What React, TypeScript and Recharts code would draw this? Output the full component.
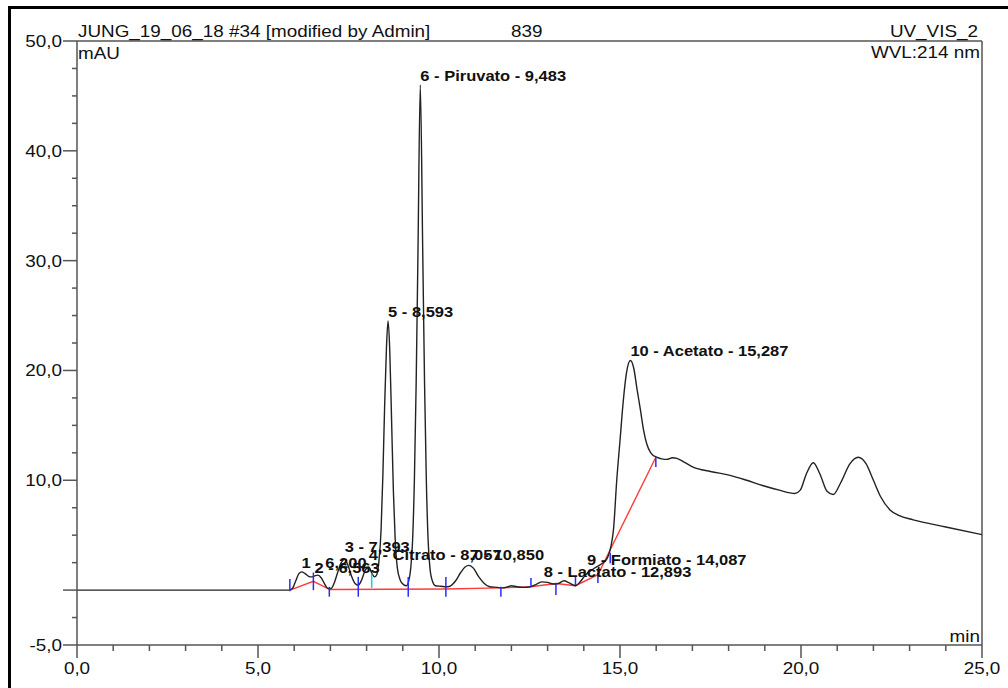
import { ComposedChart, Line, Scatter, XAxis, YAxis, ReferenceLine } from 'recharts'

// chromatogram trace: [retention time (min), signal (mAU)]
const trace: [number, number][] = [
    [0, 0], [5.85, 0], [5.95, 0.15], [6.05, 0.9], [6.13, 1.5], [6.21, 1.66], [6.3, 1.5], [6.4, 1.25],
    [6.48, 1.2], [6.57, 1.3], [6.66, 1.36], [6.75, 1.1], [6.85, 0.5], [6.93, 0.15], [7.02, 0.15],
    [7.1, 0.6], [7.2, 1.6], [7.3, 2.5], [7.39, 2.8], [7.48, 2.3], [7.58, 1.3], [7.68, 0.6], [7.77, 0.45],
    [7.86, 0.9], [7.96, 1.8], [8.06, 2.1], [8.15, 1.5], [8.22, 1.2], [8.28, 1.4], [8.34, 2.6], [8.4, 5.5],
    [8.45, 10.5], [8.5, 17], [8.55, 22.2], [8.593, 24.5], [8.64, 21.8], [8.69, 15.5], [8.74, 9], [8.79, 4.6],
    [8.85, 2], [8.93, 0.9], [9.02, 0.5], [9.1, 0.4], [9.16, 0.8], [9.22, 2.0], [9.27, 4.5], [9.32, 10],
    [9.37, 19], [9.42, 31], [9.483, 46], [9.55, 31], [9.6, 19], [9.65, 10], [9.7, 4.5], [9.75, 2.0],
    [9.82, 0.8], [9.9, 0.4], [10.05, 0.35], [10.2, 0.3], [10.3, 0.35], [10.45, 0.8], [10.6, 1.6],
    [10.72, 2.1], [10.83, 2.25], [10.95, 2.0], [11.1, 1.2], [11.25, 0.6], [11.4, 0.3], [11.6, 0.25],
    [11.75, 0.2], [11.9, 0.3], [12.0, 0.4], [12.15, 0.3], [12.35, 0.25], [12.52, 0.3], [12.7, 0.55],
    [12.85, 0.75], [13.0, 0.7], [13.15, 0.55], [13.3, 0.6], [13.45, 0.85], [13.6, 0.65], [13.77, 0.4],
    [13.9, 0.75], [14.05, 1.4], [14.25, 1.9], [14.45, 2.3], [14.63, 2.8], [14.75, 4.0], [14.82, 5.5],
    [14.91, 10], [15.0, 13.6], [15.09, 17.2], [15.18, 19.8], [15.287, 20.9], [15.38, 20.2], [15.47, 18.3],
    [15.56, 16.5], [15.65, 14.6], [15.74, 13.3], [15.85, 12.5], [16.01, 12.1], [16.15, 11.95],
    [16.29, 11.9], [16.45, 12.05], [16.57, 12.0], [16.8, 11.6], [17.02, 11.2], [17.5, 10.8],
    [18.04, 10.45], [18.5, 10.0], [18.96, 9.5], [19.4, 9.1], [19.83, 8.8], [19.98, 9.1], [20.15, 10.6],
    [20.34, 11.6], [20.52, 10.6], [20.72, 9.0], [20.89, 8.7], [21.1, 9.8], [21.35, 11.5], [21.58, 12.1],
    [21.8, 11.5], [22.0, 10.0], [22.2, 8.5], [22.46, 7.3], [22.7, 6.8], [23.1, 6.4], [24.0, 5.75],
    [25, 5.05],
]

// integration baseline (red)
const baseline: [number, number][] = [
    [5.88, 0], [6.53, 0.8], [6.99, 0.05], [10.19, 0.1], [11.71, 0.2], [12.54, 0.3],
    [13.23, 0.6], [13.77, 0.4], [14.39, 1.4], [15.99, 12.1],
]

// peak delimiters: [time, low, high]
const delimiters: [number, number, number][] = [
    [5.88, -0.1, 1.0], [6.53, 0, 1.6], [6.97, -0.6, 0.3], [7.77, -0.6, 1.2], [9.15, -0.6, 1.2],
    [10.19, -0.6, 1.2], [11.71, -0.6, 0.3], [12.54, 0.3, 1.1], [13.23, -0.45, 0.6], [13.77, 0.45, 1.3],
    [14.39, 0.65, 1.55], [14.73, 2.45, 3.4], [15.99, 11.2, 12.1],
]
const splitMarks: [number, number, number][] = [[8.14, 0.2, 1.5]]

// peak table
const peakTimes = [6.2, 6.563, 7.393, 8.057, 8.593, 9.483, 10.85, 12.893, 14.087, 15.287]
const peakNames = ['', '', '', 'Citrato', '', 'Piruvato', '', 'Lactato', 'Formiato', 'Acetato']
const labelLevels = [2.0, 1.57, 3.48, 2.73, 24.85, 46.4, 2.73, 1.2, 2.27, 21.36]

const xTicks = Array.from({ length: 26 }, (_, i) => i)
const yTicks = [50, 47.5, 45, 42.5, 40, 37.5, 35, 32.5, 30, 27.5, 25, 22.5, 20, 17.5, 15, 12.5, 10, 7.5, 5, 2.5, 0, -2.5, -5]

const traceData = trace.map(([t, v]) => ({ t, v }))
const baselineData = baseline.map(([t, v]) => ({ t, v }))
const labelData = peakTimes.map((t, i) => ({
    t,
    v: labelLevels[i],
    text: `${i + 1} - ${peakNames[i] ? peakNames[i] + ' - ' : ''}${t.toFixed(3).replace('.', ',')}`,
}))

const FONT = "'Liberation Sans', Arial, sans-serif"
const SX = 1.18
const AXIS = '#555'

const fmt = (v: number) => v.toFixed(1).replace('.', ',')

const SText = ({ x, y, anchor = 'start', size = 16, bold = false, children }: any) => (
    <text
        transform={`translate(${x},${y}) scale(${SX},1)`}
        textAnchor={anchor}
        fontSize={size}
        fontWeight={bold ? 'bold' : 'normal'}
        fontFamily={FONT}
        fill="#111"
    >
        {children}
    </text>
)

const YTick = ({ x, y, payload }: any) => {
    const v = payload.value
    const major = v % 10 === 0 || v === -5
    return (
        <g>
            <line x1={x - (major ? 14 : 5)} x2={x} y1={y} y2={y} stroke={AXIS} strokeWidth={1.5} />
            {major && v !== 0 && <SText x={x - 15} y={y + 6} anchor="end">{fmt(v)}</SText>}
        </g>
    )
}

const XTick = ({ x, y, payload }: any) => {
    const v = payload.value
    const major = v % 5 === 0
    return (
        <g>
            <line x1={x} x2={x} y1={y} y2={y + (major ? 13 : 6)} stroke={AXIS} strokeWidth={1.5} />
            {major && <SText x={x} y={y + 29} anchor="middle">{fmt(v)}</SText>}
        </g>
    )
}

const PeakLabel = ({ cx, cy, payload }: any) => (
    <SText x={cx} y={cy} size={14} bold>{payload.text}</SText>
)

export default function App() {
    return (
        <div style={{ position: 'relative', width: 1008, height: 688, overflow: 'hidden', background: '#fff' }}>
            <style>{'body{margin:0}'}</style>
            <div
                style={{
                    position: 'absolute', left: 8, top: 6, width: 1040, height: 720,
                    border: '3px solid #000',
                }}
            />
            <div style={{ position: 'absolute', left: 0, top: 0 }}>
                <ComposedChart width={1008} height={688} margin={{ top: 41, right: 26, left: 17, bottom: 0 }}>
                    <XAxis
                        type="number"
                        dataKey="t"
                        domain={[0, 25]}
                        ticks={xTicks}
                        interval={0}
                        allowDataOverflow
                        height={43}
                        tickSize={0}
                        tickMargin={0}
                        tickLine={false}
                        axisLine={{ stroke: AXIS, strokeWidth: 1.5 }}
                        tick={<XTick />}
                    />
                    <YAxis
                        type="number"
                        domain={[-5, 50]}
                        ticks={yTicks}
                        interval={0}
                        allowDataOverflow
                        width={60}
                        tickSize={0}
                        tickMargin={0}
                        tickLine={false}
                        axisLine={{ stroke: AXIS, strokeWidth: 1.5 }}
                        tick={<YTick />}
                    />
                    <ReferenceLine x={25} stroke={AXIS} strokeWidth={1.5} />
                    <ReferenceLine y={50} stroke={AXIS} strokeWidth={1.5} />
                    <Line
                        data={baselineData}
                        dataKey="v"
                        type="linear"
                        stroke="#ff3b3b"
                        strokeWidth={1.4}
                        dot={false}
                        activeDot={false}
                        isAnimationActive={false}
                    />
                    <Line
                        data={traceData}
                        dataKey="v"
                        type="monotone"
                        stroke="#222"
                        strokeWidth={1.4}
                        dot={false}
                        activeDot={false}
                        isAnimationActive={false}
                    />
                    {delimiters.map(([t, lo, hi], i) => (
                        <ReferenceLine key={'d' + i} segment={[{ x: t, y: lo }, { x: t, y: hi }]} stroke="#2a2aff" strokeWidth={1.5} />
                    ))}
                    {splitMarks.map(([t, lo, hi], i) => (
                        <ReferenceLine key={'s' + i} segment={[{ x: t, y: lo }, { x: t, y: hi }]} stroke="#00d8e0" strokeWidth={1.5} />
                    ))}
                    <Scatter data={labelData} dataKey="v" shape={<PeakLabel />} isAnimationActive={false} />
                </ComposedChart>
            </div>
            <svg width={1008} height={688} style={{ position: 'absolute', left: 0, top: 0, pointerEvents: 'none' }}>
                <SText x={78} y={37}>JUNG_19_06_18 #34 [modified by Admin]</SText>
                <SText x={511} y={37}>839</SText>
                <SText x={978} y={37} anchor="end">UV_VIS_2</SText>
                <SText x={78} y={59}>mAU</SText>
                <SText x={980} y={58} anchor="end">WVL:214 nm</SText>
                <SText x={980} y={642} anchor="end">min</SText>
            </svg>
        </div>
    )
}
